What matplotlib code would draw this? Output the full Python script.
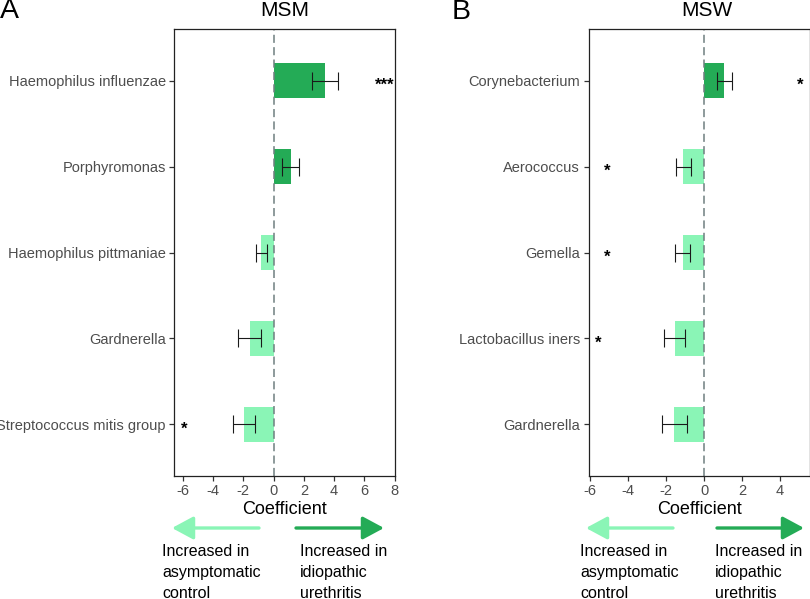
import matplotlib
matplotlib.use("Agg")
import matplotlib.pyplot as plt
from matplotlib.patches import FancyArrowPatch
from matplotlib.ticker import FuncFormatter

plt.rcParams['font.family'] = ['Liberation Sans', 'DejaVu Sans']

# ---- data ----
msm_taxa = ["Haemophilus influenzae", "Porphyromonas", "Haemophilus pittmaniae",
            "Gardnerella", "Streptococcus mitis group"]
msm_coef = [3.40, 1.12, -0.80, -1.57, -1.97]
msm_se = [0.88, 0.55, 0.38, 0.76, 0.72]
msm_sig = ["***", "", "", "", "*"]
msm_sig_x = [7.35, None, None, None, -5.92]
msm_ticks = [-6, -4, -2, 0, 2, 4, 6, 8]

msw_taxa = ["Corynebacterium", "Aerococcus", "Gemella", "Lactobacillus iners", "Gardnerella"]
msw_coef = [1.06, -1.10, -1.12, -1.56, -1.57]
msw_se = [0.40, 0.40, 0.40, 0.56, 0.66]
msw_sig = ["*", "*", "*", "*", ""]
msw_sig_x = [5.05, -5.11, -5.12, -5.56, None]
msw_ticks = [-6, -4, -2, 0, 2, 4]

DARK = "#24AB56"
LIGHT = "#8AF5B6"
W, H = 810, 599

fig = plt.figure(figsize=(W / 100, H / 100), dpi=100)


def px_axes(left, right, top, bottom):
    return fig.add_axes([left / W, 1 - bottom / H, (right - left) / W, (bottom - top) / H])


def panel(ax, taxa, coef, se, sig, sigx, ticks, xlim):
    ys = list(range(1, len(taxa) + 1))
    colors = [DARK if c > 0 else LIGHT for c in coef]
    ax.barh(ys, coef, height=0.4, color=colors, zorder=1)
    ax.axvline(0, color="#6F7F80", lw=1.1, dashes=(5.3, 2.8), zorder=2)
    ax.errorbar(coef, ys, xerr=se, fmt="none", ecolor="#1a1a1a", elinewidth=0.8,
                capsize=6.5, capthick=0.8, zorder=3)
    for y, s, x in zip(ys, sig, sigx):
        if s:
            ax.annotate(s, (x, y), xytext=(0, -6.5), textcoords="offset points",
                        ha="center", va="baseline", fontsize=12, fontweight="bold",
                        color="black")
    ax.set_ylim(len(taxa) + 0.6, 0.4)
    ax.set_xlim(*xlim)
    ax.set_yticks(ys)
    ax.set_yticklabels(taxa)
    ax.set_xticks(ticks)
    ax.xaxis.set_major_formatter(FuncFormatter(lambda v, p: "%d" % v))
    ax.tick_params(axis="both", colors="#333333", labelcolor="#4D4D4D",
                   labelsize=10.5, length=3.5, width=0.9, pad=2.5)
    for sp in ax.spines.values():
        sp.set_color("#222222")
        sp.set_linewidth(0.9)
    ax.set_xlabel("Coefficient", fontsize=13, color="black", labelpad=2)


axA = px_axes(174, 395, 29, 476)
panel(axA, msm_taxa, msm_coef, msm_se, msm_sig, msm_sig_x, msm_ticks, (-6.58, 8.02))
axB = px_axes(588.5, 809.5, 29, 476)
panel(axB, msw_taxa, msw_coef, msw_se, msw_sig, msw_sig_x, msw_ticks, (-6.09, 5.55))


def ftext(x, y, s, **kw):
    fig.text(x / W, 1 - y / H, s, **kw)


ftext(285, 11, "MSM", fontsize=15, ha="center", va="center")
ftext(707, 11, "MSW", fontsize=15, ha="center", va="center")
ftext(0, 11, "A", fontsize=20.5, ha="left", va="center")
ftext(452, 12, "B", fontsize=20.5, ha="left", va="center")


def arrow(x0, x1, y, color):
    a = FancyArrowPatch((x0 / W, 1 - y / H), (x1 / W, 1 - y / H), transform=fig.transFigure,
                        arrowstyle="-|>,head_length=13,head_width=7", mutation_scale=1,
                        lw=2.4, color=color, shrinkA=0, shrinkB=0)
    fig.patches.append(a)


arrow(259, 172, 528, LIGHT)
arrow(296, 384, 528, DARK)
arrow(673, 586, 528, LIGHT)
arrow(717, 804, 528, DARK)

left_lines = ["Increased in", "asymptomatic", "control"]
right_lines = ["Increased in", "idiopathic", "urethritis"]
for i, (l, r) in enumerate(zip(left_lines, right_lines)):
    y = 552 + i * 20.5
    ftext(162.5, y, l, fontsize=11.5, ha="left", va="center")
    ftext(300, y, r, fontsize=11.5, ha="left", va="center")
    ftext(580.5, y, l, fontsize=11.5, ha="left", va="center")
    ftext(715, y, r, fontsize=11.5, ha="left", va="center")

fig.savefig("out.png", dpi=100)
